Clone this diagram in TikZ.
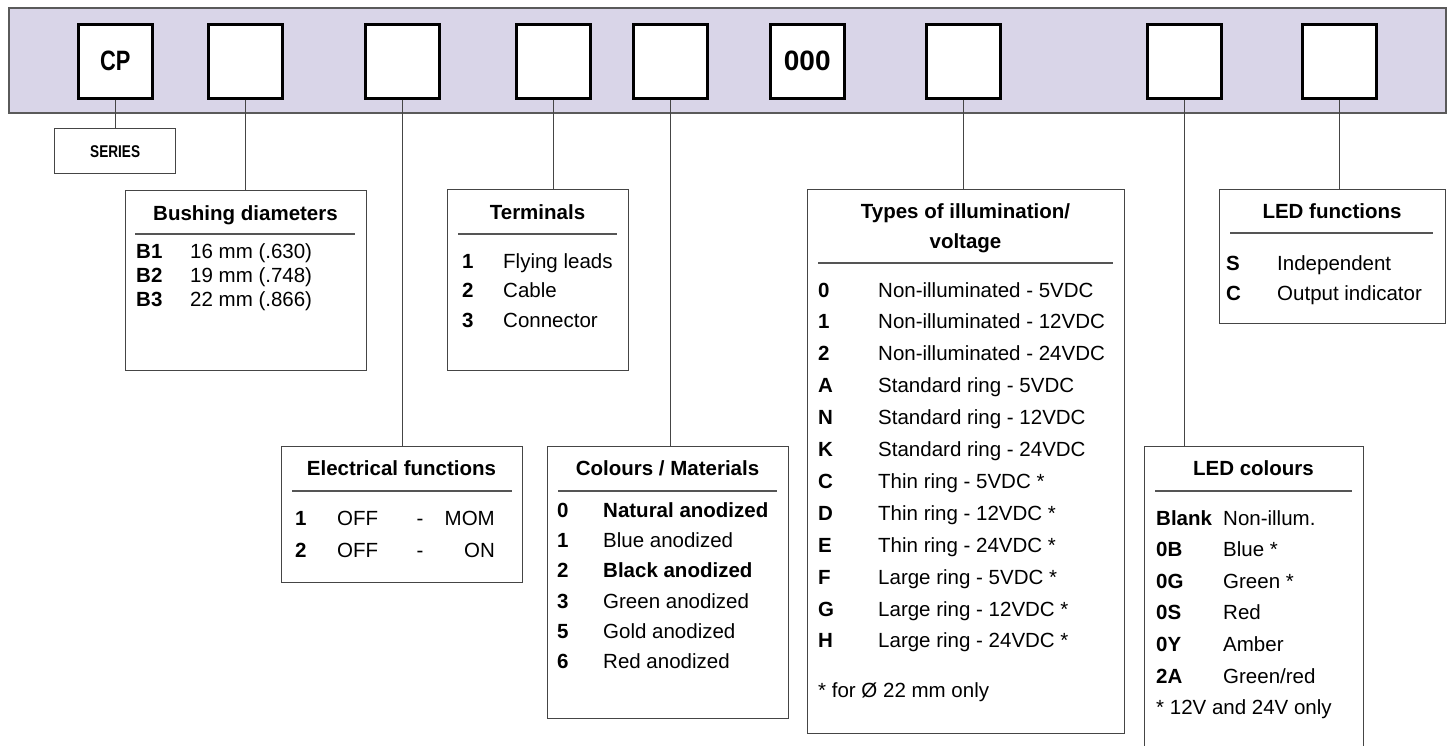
\documentclass[tikz,border=0pt]{standalone}
\usepackage{fontspec}
\setmainfont{Liberation Sans}
\usepackage{graphicx}
\definecolor{barfill}{HTML}{D9D5E8}
\definecolor{barline}{HTML}{5A5A5A}
\definecolor{lineg}{HTML}{454545}
\definecolor{ruleg}{HTML}{555555}
\begin{document}
\begin{tikzpicture}[x=1pt,y=-1pt,
  code/.style={anchor=base west, font=\fontsize{20.5}{24}\selectfont\bfseries, inner sep=0},
  desc/.style={anchor=base west, font=\fontsize{20.5}{24}\selectfont, inner sep=0},
  descc/.style={anchor=base, font=\fontsize{20.5}{24}\selectfont, inner sep=0},
  desce/.style={anchor=base east, font=\fontsize{20.5}{24}\selectfont, inner sep=0},
  ttl/.style={anchor=base, font=\fontsize{20.5}{24}\selectfont\bfseries, inner sep=0},
  sq/.style={draw=black, line width=2.5pt, fill=white, minimum width=74pt, minimum height=74pt, inner sep=0, anchor=north west, font=\fontsize{28}{32}\selectfont\bfseries},
  lbox/.style={draw=lineg, line width=1.3pt, fill=white, inner sep=0, anchor=north west},
  conn/.style={draw=lineg, line width=1.3pt},
  rulel/.style={draw=ruleg, line width=1.2pt}]
\useasboundingbox (0,0) rectangle (1451,745);
\clip (0,0) rectangle (1451,745);
% bar
\node[draw=barline, fill=barfill, line width=1.5pt, minimum width=1437pt, minimum height=105pt, anchor=north west, inner sep=0] (bar) at (8,7) {};
% squares
\node[sq] (s1) at (77,23) {\scalebox{0.78}[1]{CP}};
\node[sq] (s2) at (207,23) {};
\node[sq] (s3) at (364,23) {};
\node[sq] (s4) at (515,23) {};
\node[sq] (s5) at (632,23) {};
\node[sq] (s6) at (769,23) {000};
\node[sq] (s7) at (925,23) {};
\node[sq] (s8) at (1146,23) {};
\node[sq] (s9) at (1301,23) {};
% legend boxes
\node[lbox, minimum width=121pt, minimum height=45pt, font=\fontsize{17}{20}\selectfont\bfseries] (ser) at (54,128) {\scalebox{0.8}[1]{SERIES}};
\node[lbox, minimum width=241pt, minimum height=180pt] (bush) at (125,190) {};
\node[lbox, minimum width=181pt, minimum height=181pt] (term) at (447,189) {};
\node[lbox, minimum width=241pt, minimum height=136pt] (elec) at (281,446) {};
\node[lbox, minimum width=241pt, minimum height=272pt] (colr) at (547,446) {};
\node[lbox, minimum width=317pt, minimum height=544pt] (types) at (807,189) {};
\node[lbox, minimum width=226pt, minimum height=134pt] (ledf) at (1219,189) {};
\node[lbox, minimum width=219pt, minimum height=330pt] (ledc) at (1144,446) {};
% connectors
\draw[conn] (s1.south) -- (s1.south |- ser.north);
\draw[conn] (s2.south) -- (s2.south |- bush.north);
\draw[conn] (s3.south) -- (s3.south |- elec.north);
\draw[conn] (s4.south) -- (s4.south |- term.north);
\draw[conn] (s5.south) -- (s5.south |- colr.north);
\draw[conn] (s7.south) -- (s7.south |- types.north);
\draw[conn] (s8.south) -- (s8.south |- ledc.north);
\draw[conn] (s9.south) -- (s9.south |- ledf.north);
% Bushing diameters
\node[ttl] (busht) at (245.5,220) {Bushing diameters};
\draw[rulel] (135,234) -- (355,234);
\node[code] (b1c) at (136,258) {B1}; \node[desc] (b1d) at (190,258) {16 mm (.630)};
\node[code] (b2c) at (136,282) {B2}; \node[desc] (b2d) at (190,282) {19 mm (.748)};
\node[code] (b3c) at (136,306) {B3}; \node[desc] (b3d) at (190,306) {22 mm (.866)};
% Terminals
\node[ttl] (termt) at (537.5,219) {Terminals};
\draw[rulel] (458,234) -- (617,234);
\node[code] (t1c) at (462,268) {1}; \node[desc] (t1d) at (503,268) {Flying leads};
\node[code] (t2c) at (462,297) {2}; \node[desc] (t2d) at (503,297) {Cable};
\node[code] (t3c) at (462,327) {3}; \node[desc] (t3d) at (503,327) {Connector};
% Electrical functions
\node[ttl] (elect) at (401.5,475) {Electrical functions};
\draw[rulel] (292,491) -- (512,491);
\node[code] (e1c) at (295,525) {1}; \node[desc] (e1a) at (337,525) {OFF};
\node[descc] (e1b) at (420,525) {-}; \node[desce] (e1d) at (495,525) {MOM};
\node[code] (e2c) at (295,557) {2}; \node[desc] (e2a) at (337,557) {OFF};
\node[descc] (e2b) at (420,557) {-}; \node[desce] (e2d) at (495,557) {ON};
% Colours / Materials
\node[ttl] (colt) at (667.5,475) {Colours / Materials};
\draw[rulel] (558,491) -- (777,491);
\node[code] (c0c) at (557,517) {0}; \node[code] (c0d) at (603,517) {Natural anodized};
\node[code] (c1c) at (557,547) {1}; \node[desc] (c1d) at (603,547) {Blue anodized};
\node[code] (c2c) at (557,577) {2}; \node[code] (c2d) at (603,577) {Black anodized};
\node[code] (c3c) at (557,608) {3}; \node[desc] (c3d) at (603,608) {Green anodized};
\node[code] (c5c) at (557,638) {5}; \node[desc] (c5d) at (603,638) {Gold anodized};
\node[code] (c6c) at (557,668) {6}; \node[desc] (c6d) at (603,668) {Red anodized};
% Types of illumination / voltage
\node[ttl] (typt1) at (965.5,218) {Types of illumination/};
\node[ttl] (typt2) at (965.5,248) {voltage};
\draw[rulel] (818,263) -- (1113,263);
\foreach \c/\d [count=\i from 0] in {0/Non-illuminated - 5VDC, 1/Non-illuminated - 12VDC, 2/Non-illuminated - 24VDC, A/Standard ring - 5VDC, N/Standard ring - 12VDC, K/Standard ring - 24VDC, C/Thin ring - 5VDC *, D/Thin ring - 12VDC *, E/Thin ring - 24VDC *, F/Large ring - 5VDC *, G/Large ring - 12VDC *, H/Large ring - 24VDC *} {
  \node[code] (ty\i c) at (818,{297+31.9*\i}) {\c};
  \node[desc] (ty\i d) at (878,{297+31.9*\i}) {\d};
}
\node[desc] (tyfn) at (818,697) {* for Ø 22 mm only};
% LED functions
\node[ttl] (ledft) at (1332,218) {LED functions};
\draw[rulel] (1230,233) -- (1433,233);
\node[code] (lfsc) at (1226,270) {S}; \node[desc] (lfsd) at (1277,270) {Independent};
\node[code] (lfcc) at (1226,300) {C}; \node[desc] (lfcd) at (1277,300) {Output indicator};
% LED colours
\node[ttl] (ledct) at (1253.5,475) {LED colours};
\draw[rulel] (1155,491) -- (1352,491);
\foreach \c/\d [count=\i from 0] in {Blank/Non-illum., 0B/Blue *, 0G/Green *, 0S/Red, 0Y/Amber, 2A/{Green/red}} {
  \node[code] (lc\i c) at (1156,{525+31.6*\i}) {\c};
  \node[desc] (lc\i d) at (1223,{525+31.6*\i}) {\d};
}
\node[desc] (lcfn) at (1156,714) {* 12V and 24V only};
\end{tikzpicture}
\end{document}
